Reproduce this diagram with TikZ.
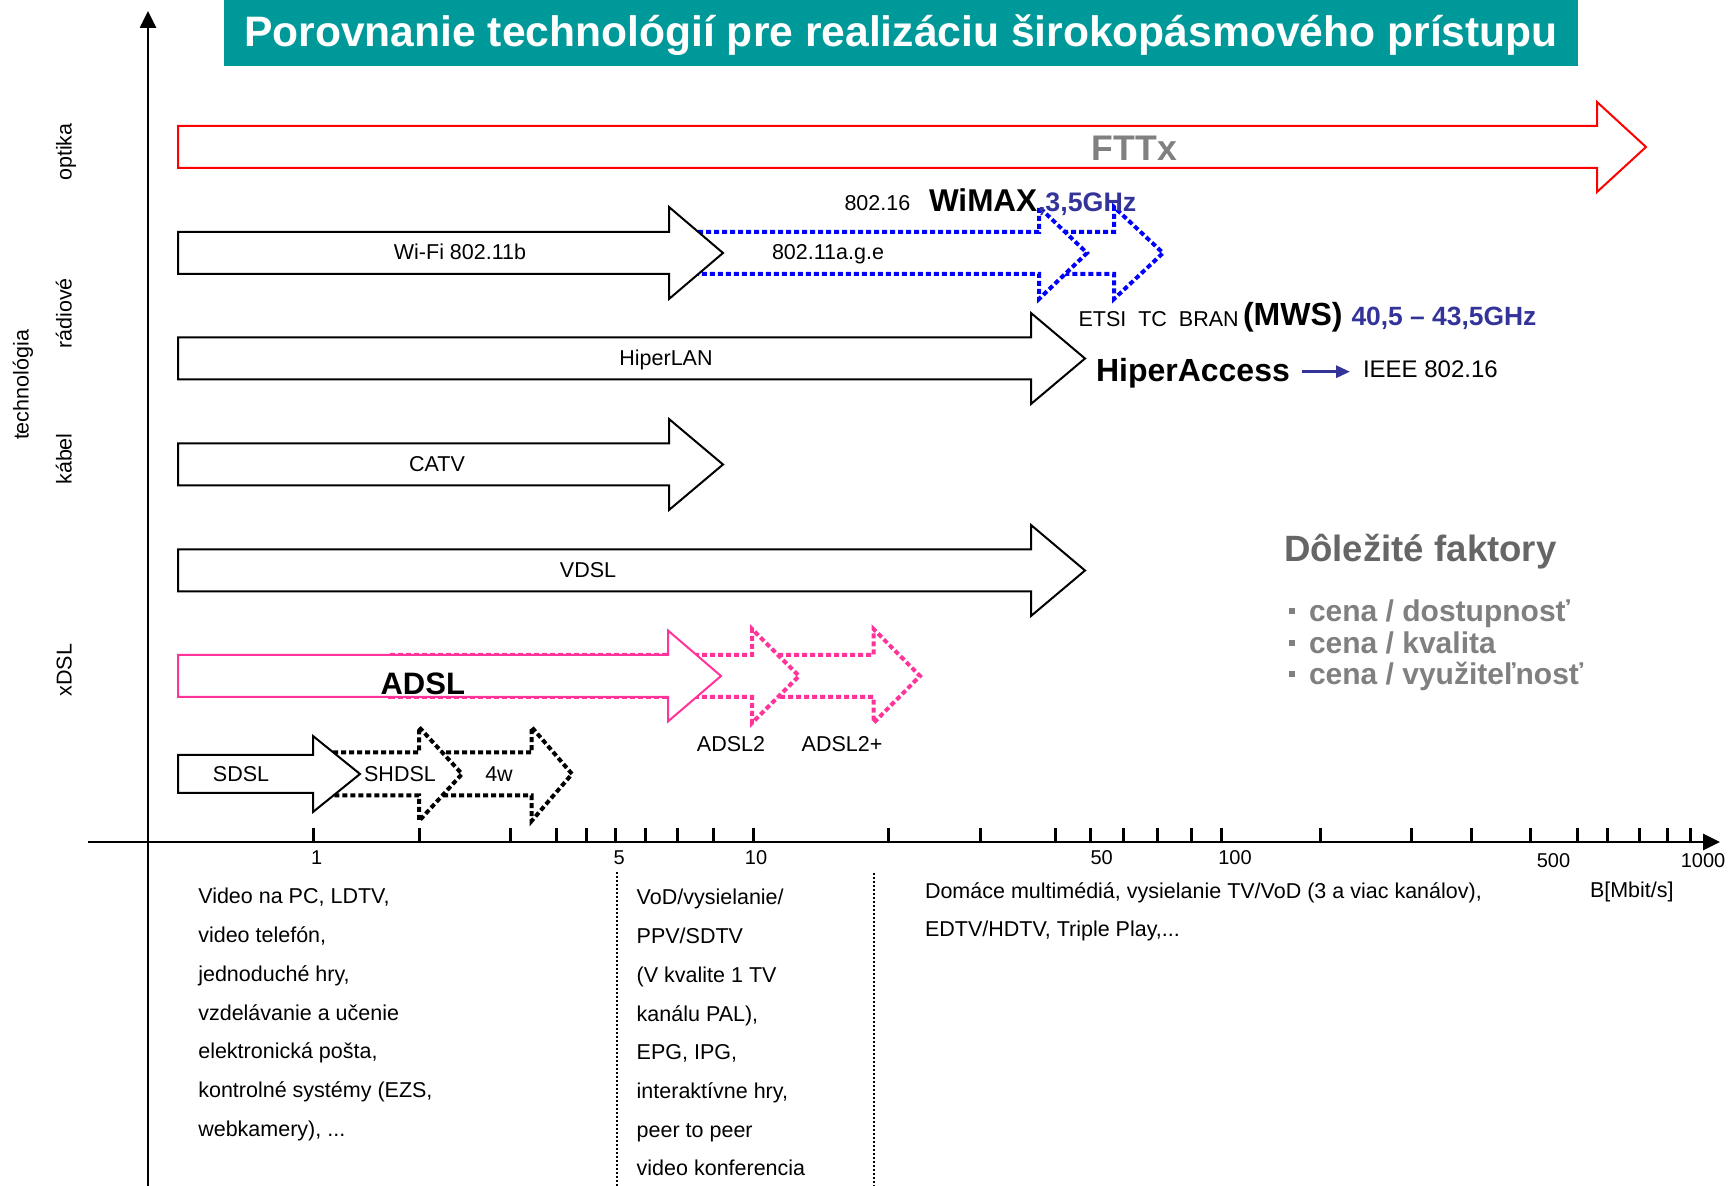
\documentclass[tikz,border=0pt]{standalone}
\usepackage{fontspec}
\setmainfont{Liberation Sans}
\usetikzlibrary{arrows.meta}
\definecolor{titleteal}{RGB}{0,153,153}
\definecolor{pinkc}{RGB}{255,51,153}
\definecolor{navyc}{RGB}{51,51,153}
\definecolor{bluec}{RGB}{0,0,255}
\newcommand{\fsz}[1]{\fontsize{#1}{#1}\selectfont}
\newcommand{\tdots}{...}
\newcommand{\bigarrow}[7][]{\draw[#1] (#2,#5-#6) -- (#3,#5-#6) -- (#3,#5-#7) -- (#4,#5) -- (#3,#5+#7) -- (#3,#5+#6) -- (#2,#5+#6) -- cycle;}
\tikzset{
  every node/.style={inner sep=0pt, outer sep=0pt},
  lbl/.style={font=\fsz{10.75}},
  ticklbl/.style={font=\fsz{10}, anchor=base},
  solidarr/.style={draw=black, line width=1pt, fill=white, line join=miter},
  dotarr/.style={line width=2pt, dash pattern=on 2.5pt off 1.5pt, fill=white, line join=miter},
  axisline/.style={line width=1.3pt, -{Triangle[length=8.5pt,width=8pt]}},
  tickmark/.style={line width=1.5pt},
  sepline/.style={line width=1pt, dash pattern=on 1pt off 1pt},
  bullet/.style={font=\fsz{15}\bfseries, text=black!50, anchor=base west}
}
\begin{document}
\begin{tikzpicture}[x=0.5pt, y=-0.5pt]
\useasboundingbox (0,0) rectangle (1730,1186);
% title
\fill[titleteal] (224,0) rectangle (1578,66);
\node[anchor=base, text=white, font=\fsz{21.3}\bfseries] (title) at (901,46.7) {Porovnanie technológií pre realizáciu širokopásmového prístupu};
% axes
\draw[axisline] (148,1186) -- (148,11);
\draw[axisline] (88,842) -- (1720,842);
\foreach \x in {313.3,419.4,510.7,556.6,586.2,615.8,645.9,677,713.8,753,888.8,980.2,1055.4,1090.2,1123.8,1157.5,1191.2,1221.7,1320.3,1411,1471.7,1530.5,1577,1607.5,1639.2,1667.5,1690}
  \draw[tickmark] (\x,828) -- (\x,842);
\draw[sepline] (616.5,872) -- (616.5,1186);
\draw[sepline] (874,873) -- (874,1186);
% FTTx
\bigarrow[draw=red, line width=1pt, line join=miter]{178}{1597}{1646}{147}{21}{45}
% radio row
\bigarrow[dotarr, draw=bluec]{1055}{1114}{1163}{253}{21}{46}
\bigarrow[dotarr, draw=bluec]{690}{1039}{1087}{253}{21}{46}
\bigarrow[solidarr]{178}{669}{723}{253}{21}{46}
\bigarrow[solidarr]{178}{1031}{1085}{358.5}{21}{45.5}
% cable
\bigarrow[solidarr]{178}{669}{723}{464.5}{21}{45.5}
% VDSL
\bigarrow[solidarr]{178}{1031}{1085}{570.5}{21}{45.5}
% ADSL
\bigarrow[dotarr, draw=pinkc]{770}{873.5}{920}{676}{21}{47}
\bigarrow[dotarr, draw=pinkc]{390}{752}{799}{676}{21}{47}
\bigarrow[solidarr, draw=pinkc]{178}{668}{721}{676}{21}{45.5}
% SDSL
\bigarrow[dotarr, draw=black]{438}{531.6}{572}{774}{21.5}{47}
\bigarrow[dotarr, draw=black]{325}{419}{462}{774}{21.5}{47}
\bigarrow[solidarr]{178}{313}{360}{774}{19}{38}
% arrow labels
\node[anchor=base, text=black!50, font=\fsz{17.8}\bfseries] (fttx) at (1134.5,161) {FTTx};
\node[lbl, anchor=base] (wifi) at (460,260) {Wi-Fi 802.11b};
\node[lbl, anchor=base] (wlan) at (828,260) {802.11a.g.e};
\node[lbl, anchor=base west] (w8021) at (844.5,211) {802.16};
\node[anchor=base west, font=\fsz{15.75}\bfseries] (wimax) at (929,212) {WiMAX};
\node[anchor=base west, text=navyc, font=\fsz{13.4}\bfseries] (wimaxf) at (1038,211.7) {,3,5GHz};
\node[lbl, anchor=base west] (etsi) at (1078.6,327) {ETSI\ \ TC\ \ BRAN};
\node[anchor=base west, font=\fsz{16}\bfseries] (mws) at (1243,326) {(MWS)};
\node[anchor=base west, text=navyc, font=\fsz{13.2}\bfseries] (mwsf) at (1351.5,326) {40,5 – 43,5GHz};
\node[lbl, anchor=base] (hlan) at (666,366) {HiperLAN};
\node[anchor=base west, font=\fsz{16}\bfseries] (hiper) at (1096,381.7) {HiperAccess};
\node[anchor=base west, font=\fsz{12}] (ieee) at (1363,377.7) {IEEE 802.16};
\draw[navyc, line width=1.5pt, -{Triangle[length=7pt,width=6pt]}] ([xshift=6pt,yshift=5pt]hiper.base east) -- ([xshift=-6.5pt,yshift=3pt]ieee.base west);
\node[lbl, anchor=base] (catv) at (437,472) {CATV};
\node[lbl, anchor=base] (vdsl) at (588,578) {VDSL};
\node[anchor=base west, font=\fsz{15.5}\bfseries] (adsl) at (380.6,695) {ADSL};
\node[lbl, anchor=base] (adsltwo) at (731,751.7) {ADSL2};
\node[lbl, anchor=base] (adsltwop) at (842,751.7) {ADSL2+};
\node[lbl, anchor=base] (sdsl) at (241,781.7) {SDSL};
\node[lbl, anchor=base] (shdsl) at (400,781.7) {SHDSL};
\node[lbl, anchor=base] (fourw) at (499,781.7) {4w};
% left labels
\node[lbl, rotate=90, anchor=base] (optika) at (71.5,152) {optika};
\node[lbl, rotate=90, anchor=base] (radio) at (71.5,313.5) {rádiové};
\node[lbl, rotate=90, anchor=base] (kabel) at (71.5,459) {kábel};
\node[lbl, rotate=90, anchor=base] (xdsl) at (71.5,670) {xDSL};
\node[lbl, rotate=90, anchor=base] (tech) at (28.5,385) {technológia};
% factors
\node[anchor=base west, text=black!60, font=\fsz{18.3}\bfseries] (fact) at (1284,561.7) {Dôležité faktory};
\node[bullet] (fa) at (1289,621.7) {\rule[3.85pt]{3pt}{3pt}\hspace{7pt}cena / dostupnosť};
\node[bullet] (fb) at (1289,653.3) {\rule[3.85pt]{3pt}{3pt}\hspace{7pt}cena / kvalita};
\node[bullet] (fc) at (1289,685) {\rule[3.85pt]{3pt}{3pt}\hspace{7pt}cena / využiteľnosť};
% tick labels
\node[ticklbl] (t1) at (316.7,865) {1};
\node[ticklbl] (t5) at (619.3,865) {5};
\node[ticklbl] (t10) at (756,865) {10};
\node[ticklbl] (t50) at (1101.7,865) {50};
\node[ticklbl] (t100) at (1235,865) {100};
\node[ticklbl] (t500) at (1553.5,868) {500};
\node[ticklbl] (t1000) at (1703,868) {1000};
\node[lbl, anchor=base west] (unit) at (1590,898) {B[Mbit/s]};
% bottom columns
\foreach \t [count=\i] in {{Video na PC, LDTV,},{video telefón,},{jednoduché hry,},{vzdelávanie a učenie},{elektronická pošta,},{kontrolné systémy (EZS,},{webkamery), \tdots}}
  \node[lbl, anchor=base west] (ca\i) at (198.3,{904+38.7*(\i-1)}) {\t};
\foreach \t [count=\i] in {{VoD/vysielanie/},{PPV/SDTV},{(V kvalite 1 TV},{kanálu PAL),},{EPG, IPG,},{interaktívne hry,},{peer to peer},{video konferencia}}
  \node[lbl, anchor=base west] (cb\i) at (636.7,{905+38.7*(\i-1)}) {\t};
\node[lbl, anchor=base west] (cc1) at (925,899) {Domáce multimédiá, vysielanie TV/VoD (3 a viac kanálov),};
\node[lbl, anchor=base west] (cc2) at (925,936.7) {EDTV/HDTV, Triple Play,...};
\end{tikzpicture}
\end{document}
